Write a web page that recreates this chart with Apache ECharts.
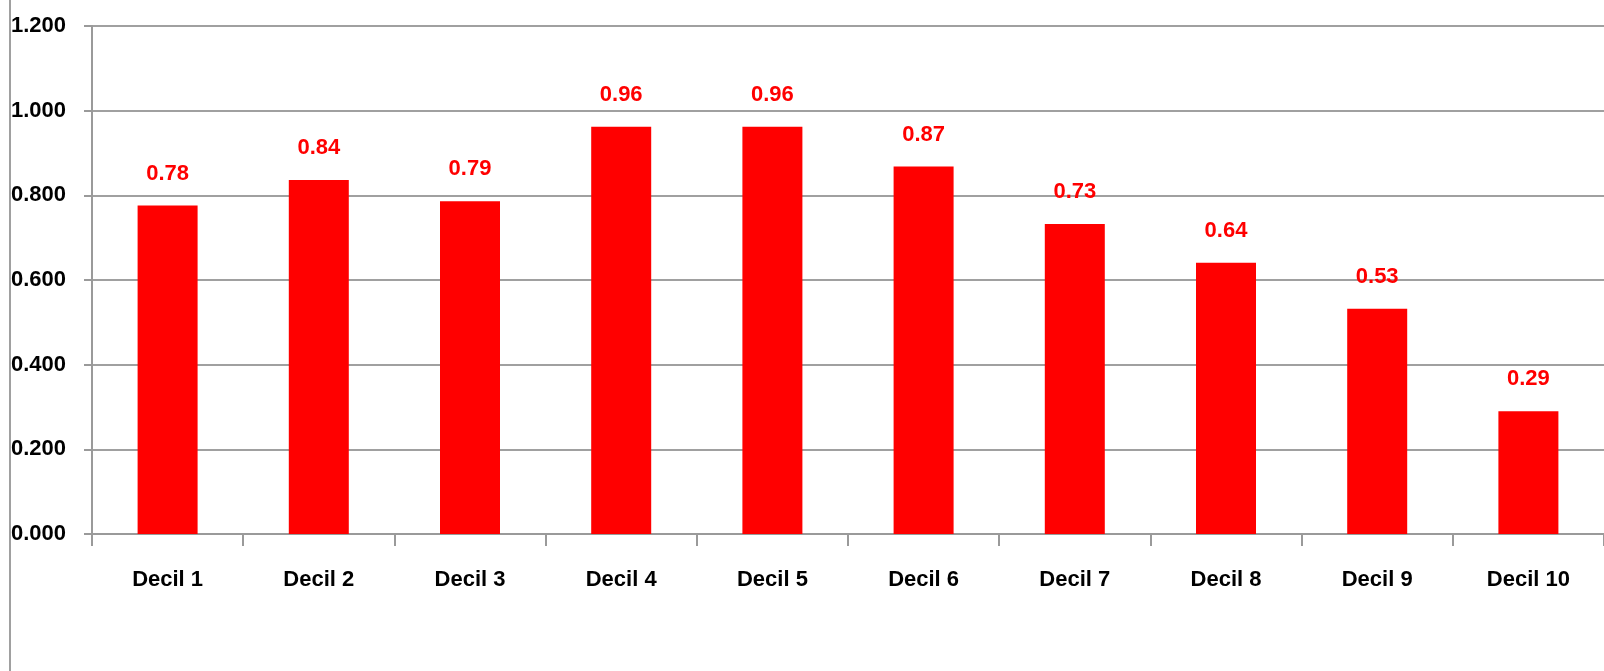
<!DOCTYPE html>
<html><head><meta charset="utf-8">
<script src="https://cdn.jsdelivr.net/npm/echarts@6/dist/echarts.min.js"></script>
<style>html,body{margin:0;padding:0;background:#fff;}#c{width:1604px;height:671px;}</style>
</head><body><div id="c"></div>
<script>
const categories = ["Decil 1","Decil 2","Decil 3","Decil 4","Decil 5","Decil 6","Decil 7","Decil 8","Decil 9","Decil 10"];
const values = [0.776, 0.836, 0.786, 0.962, 0.962, 0.868, 0.732, 0.641, 0.532, 0.290];
const yTicks = [0, 0.2, 0.4, 0.6, 0.8, 1.0, 1.2];

const FONT = '"Liberation Sans", Arial, sans-serif';
const chart = echarts.init(document.getElementById('c'), null, {renderer: 'canvas'});
chart.setOption({
  animation: false,
  backgroundColor: '#fff',
  grid: {left: 92, top: 26, width: 1518, height: 508, containLabel: false},
  graphic: [{type: 'line', shape: {x1: 10, y1: 0, x2: 10, y2: 671}, style: {stroke: '#a0a0a0', lineWidth: 2}}],
  xAxis: {
    type: 'category', data: categories,
    axisLine: {lineStyle: {color: '#9a9a9a', width: 2}},
    axisTick: {show: true, length: 12, lineStyle: {color: '#9a9a9a', width: 2}},
    axisLabel: {color: '#000', fontFamily: FONT, fontWeight: 'bold', fontSize: 22, margin: 35}
  },
  yAxis: {
    type: 'value', min: yTicks[0], max: yTicks[yTicks.length-1], interval: 0.2,
    axisLine: {show: true, lineStyle: {color: '#9a9a9a', width: 2}},
    axisTick: {show: true, length: 8, lineStyle: {color: '#9a9a9a', width: 2}},
    splitLine: {lineStyle: {color: '#a0a0a0', width: 2}},
    axisLabel: {color: '#000', fontFamily: FONT, fontWeight: 'bold', fontSize: 22, margin: 26,
      formatter: v => v.toFixed(3)}
  },
  series: [{
    type: 'bar', data: values, barWidth: 60,
    itemStyle: {color: '#ff0000'},
    label: {show: true, position: 'top', distance: 21, color: '#ff0000', fontFamily: FONT, fontWeight: 'bold', fontSize: 22,
      formatter: p => p.value.toFixed(2)}
  }]
});
</script></body></html>
